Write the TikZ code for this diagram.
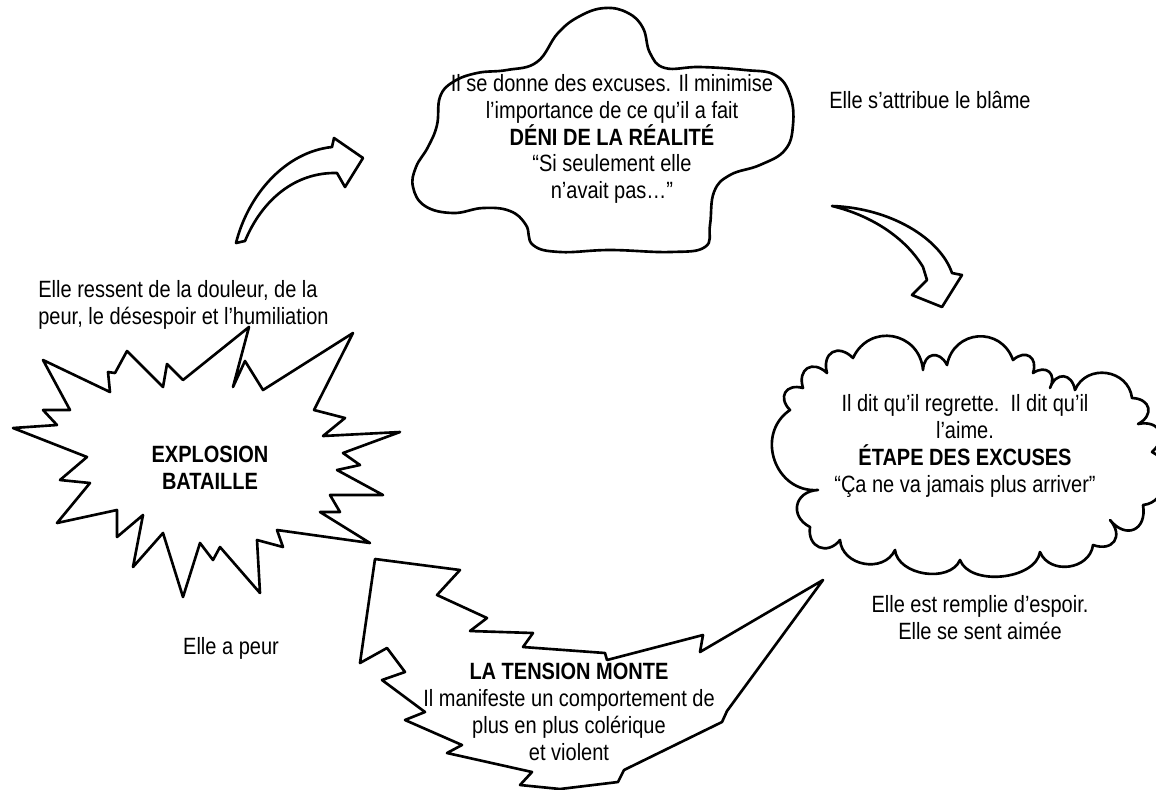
\documentclass[tikz,border=0pt]{standalone}
\usepackage{fontspec}
\setmainfont{Liberation Sans}[FakeStretch=0.85]

\tikzset{
  outline/.style={draw, line width=1.5pt, line join=round, fill=white},
  txt/.style={align=center, font=\fontsize{13.4}{15.3}\selectfont, inner sep=0pt},
  bump/.style={bend left=75, looseness=#1},
  bump/.default=1.5
}

\begin{document}
\begin{tikzpicture}[x=0.02cm, y=-0.02cm]
    \useasboundingbox (0,0) rectangle (1156,789);

    \draw[outline] plot[smooth cycle, tension=0.7] coordinates {(440,97) (453,82) (477,73) (507,70) (537,62) (558,33) (580,16) (605,8) (628,13) (643,28) (650,53) (665,68) (700,67) (745,70) (775,75) (790,95) (793,125) (785,150) (760,165) (730,175) (714,192) (710,225) (705,247) (670,252) (610,250) (560,252) (533,245) (526,225) (510,211) (483,208) (453,213) (425,206) (413,187) (416,167) (428,147) (437,125)};
    \node[txt] (deni) at (612,139) {Il se donne des excuses. Il minimise\\l’importance de ce qu’il a fait\\\textbf{DÉNI DE LA RÉALITÉ}\\“Si seulement elle\\n’avait pas…”};

    \draw[outline] (236,243) .. controls (248,195) and (285,152) .. (332,147)
        -- (334,138) -- (363,158) -- (345,187) -- (337,173)
        .. controls (295,172) and (262,200) .. (245,241) -- cycle;

    \draw[outline] (832,206) .. controls (890,208) and (940,238) .. (952,273)
        -- (962,275) -- (942,307) -- (912,295) -- (927,280) -- (923,267)
        .. controls (905,237) and (870,215) .. (832,206) -- cycle;

    \draw[outline] (818,490) to[bump=1.3] (790,410) to[bump=1.8] (803,388) to[bump=1.8] (827,373)
        to[bump=1.8] (853,358) to[bump=1.4] (923,370) to[bump=1.8] (947,365) to[bump=1.4] (1013,360)
        to[bump=1.8] (1033,373) to[bump=1.8] (1050,388) to[bump=1.8] (1075,390) to[bump=1.3] (1132,398)
        to[bump=1.8] (1138,424) to[bump=1.8] (1152,452) to[bump=1.2] (1143,505) to[bump=1.8] (1110,520)
        to[bump=1.8] (1093,545) to[bump=1.2] (1040,552) to[bump=0.9] (960,560) to[bump=1.0] (895,550)
        to[bump=1.2] (840,540) to[bump=1.6] (810,527) to[bump=1.6] (818,490) -- cycle;
    \node[txt] (excuses) at (965,446) {Il dit qu’il regrette.\ \ Il dit qu’il\\l’aime.\\\textbf{ÉTAPE DES EXCUSES}\\“Ça ne va jamais plus arriver”};

    \draw[outline] (43,360) -- (110,392) -- (108,372) -- (115,373) -- (127,351) -- (163,387) -- (167,364)
        -- (183,380) -- (249,327) -- (233,387) -- (245,361) -- (263,390) -- (353,333) -- (314,410)
        -- (345,418) -- (323,436) -- (400,432) -- (343,453) -- (360,465) -- (337,470) -- (383,495)
        -- (330,495) -- (340,512) -- (320,512) -- (370,543) -- (277,530) -- (283,547) -- (257,540)
        -- (260,593) -- (220,547) -- (213,560) -- (200,543) -- (183,597) -- (163,533) -- (133,567)
        -- (143,515) -- (117,537) -- (117,510) -- (57,523) -- (90,483) -- (60,480) -- (87,457)
        -- (13,428) -- (57,425) -- (43,410) -- (70,410) -- cycle;
    \node[txt, font=\fontsize{13.4}{15.3}\selectfont\bfseries] (explosion) at (210,468) {EXPLOSION\\BATAILLE};

    \draw[outline] (375,559) -- (460,570) -- (437,595) -- (487,618) -- (470,631) -- (533,633) -- (523,647)
        -- (605,653) -- (607,660) -- (703,635) -- (700,652) -- (823,580) -- (727,711) -- (722,722)
        -- (624,770) -- (618,782) -- (560,789) -- (520,785) -- (532,772) -- (447,753) -- (462,745)
        -- (405,720) -- (425,712) -- (382,680) -- (405,672) -- (387,648) -- (360,663) -- cycle;
    \node[txt] (tension) at (569,712) {\textbf{LA TENSION MONTE}\\Il manifeste un comportement de\\plus en plus colérique\\et violent};

    \node[txt] (blame) at (930,100) {Elle s’attribue le blâme};
    \node[txt, align=left, anchor=west] (ressent) at (38,305) {Elle ressent de la douleur, de la\\peur, le désespoir et l’humiliation};
    \node[txt] (peur) at (231,648) {Elle a peur};
    \node[txt] (espoir) at (980,618) {Elle est remplie d’espoir.\\Elle se sent aimée};
\end{tikzpicture}
\end{document}
